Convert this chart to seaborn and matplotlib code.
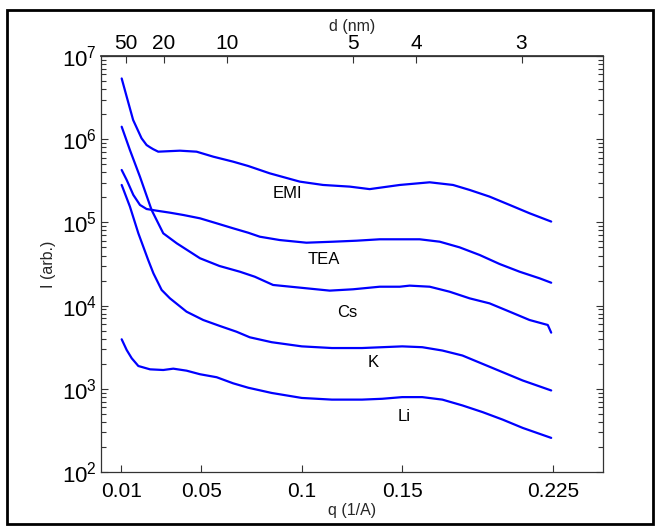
import numpy as np
import pandas as pd
import matplotlib
matplotlib.use("Agg")
import matplotlib.pyplot as plt
from matplotlib.patches import Rectangle
from matplotlib.ticker import LogLocator, NullFormatter, FixedLocator
import seaborn as sns

# ---------------- data ----------------
q_emi = [0.0103, 0.0128, 0.016, 0.0202, 0.0227, 0.0244, 0.026, 0.0285, 0.0393, 0.0476,
         0.0559, 0.0658, 0.0733, 0.084, 0.099, 0.1106, 0.1239, 0.1338, 0.1488, 0.1637,
         0.1753, 0.1836, 0.1935, 0.2035, 0.2134, 0.2242]
logI_emi = [6.73, 6.51, 6.231, 6.011, 5.93, 5.903, 5.88, 5.850, 5.862, 5.850,
            5.790, 5.730, 5.678, 5.59, 5.49, 5.45, 5.43, 5.40, 5.45, 5.482,
            5.45, 5.39, 5.31, 5.21, 5.11, 5.01]

q_tea = [0.0103, 0.0128, 0.0161, 0.0194, 0.0227, 0.0277, 0.0343, 0.041, 0.0493, 0.0576,
         0.0658, 0.0733, 0.0791, 0.089, 0.1023, 0.1156, 0.1272, 0.1388, 0.1488, 0.1587,
         0.1687, 0.1786, 0.1886, 0.1985, 0.2085, 0.2184, 0.2242]
logI_tea = [5.63, 5.51, 5.33, 5.21, 5.161, 5.141, 5.117, 5.089, 5.049, 4.989,
            4.929, 4.876, 4.828, 4.788, 4.756, 4.768, 4.78, 4.797, 4.797, 4.797,
            4.768, 4.70, 4.608, 4.5, 4.407, 4.328, 4.275]

q_cs = [0.0103, 0.0144, 0.0194, 0.0252, 0.031, 0.0377, 0.0493, 0.059, 0.0692, 0.0766,
        0.0857, 0.1023, 0.1139, 0.1255, 0.1388, 0.1488, 0.1537, 0.1637, 0.1736, 0.1836,
        0.1935, 0.2035, 0.2134, 0.2225, 0.2242]
logI_cs = [6.15, 5.87, 5.549, 5.149, 4.869, 4.749, 4.569, 4.476, 4.407, 4.347,
           4.248, 4.208, 4.18, 4.196, 4.227, 4.227, 4.24, 4.227, 4.167, 4.087,
           4.027, 3.927, 3.827, 3.767, 3.675]

q_k = [0.0103, 0.0144, 0.0186, 0.0235, 0.0261, 0.0302, 0.0343, 0.0426, 0.0509, 0.0592,
       0.0675, 0.0741, 0.085, 0.1, 0.115, 0.13, 0.14, 0.15, 0.16, 0.17,
       0.18, 0.19, 0.2, 0.21, 0.2242]
logI_k = [5.45, 5.19, 4.869, 4.548, 4.388, 4.188, 4.088, 3.927, 3.827, 3.755,
          3.686, 3.619, 3.56, 3.51, 3.49, 3.49, 3.50, 3.51, 3.50, 3.46,
          3.40, 3.30, 3.20, 3.10, 2.98]

q_li = [0.0103, 0.0128, 0.0153, 0.0186, 0.0244, 0.031, 0.036, 0.0426, 0.0493, 0.0576,
        0.0658, 0.0733, 0.085, 0.1, 0.115, 0.13, 0.14, 0.15, 0.16, 0.17,
        0.18, 0.19, 0.2, 0.21, 0.2242]
logI_li = [3.595, 3.466, 3.367, 3.274, 3.234, 3.226, 3.242, 3.218, 3.175, 3.139,
           3.066, 3.013, 2.95, 2.89, 2.87, 2.87, 2.88, 2.90, 2.90, 2.87,
           2.80, 2.72, 2.63, 2.53, 2.41]

series_names = ["EMI", "TEA", "Cs", "K", "Li"]
label_q = [0.0929, 0.111, 0.1227, 0.1358, 0.1512]
label_logI = [5.35, 4.56, 3.92, 3.32, 2.67]

x_ticks = [0.01, 0.05, 0.1, 0.15, 0.225]
x_tick_labels = ["0.01", "0.05", "0.1", "0.15", "0.225"]
d_ticks_nm = [50, 20, 10, 5, 4, 3]

# ---------------- build table ----------------
frames = []
for name, qq, ll in zip(series_names,
                        [q_emi, q_tea, q_cs, q_k, q_li],
                        [logI_emi, logI_tea, logI_cs, logI_k, logI_li]):
    frames.append(pd.DataFrame({"q": qq, "I": 10 ** np.array(ll), "sample": name}))
df = pd.concat(frames, ignore_index=True)

# ---------------- plot ----------------
sns.set_theme(style="white")
plt.rcParams["font.family"] = ["Liberation Sans", "DejaVu Sans"]
plt.rcParams["mathtext.fontset"] = "custom"
plt.rcParams["mathtext.rm"] = "Liberation Sans"
plt.rcParams["mathtext.it"] = "Liberation Sans:italic"

W, H = 659, 527
fig = plt.figure(figsize=(W / 100, H / 100), dpi=100)
fig.patch.set_facecolor("white")
ax = fig.add_axes([101 / W, 1 - 472 / H, (603 - 101) / W, (472 - 56) / H])

sns.lineplot(data=df, x="q", y="I", hue="sample",
             palette={n: "#0000ff" for n in series_names},
             estimator=None, sort=False, legend=False, ax=ax, linewidth=1.6)

ax.set_yscale("log")
ax.set_xlim(0, 0.25)
ax.set_ylim(1e2, 1e7)
ax.set_xticks(x_ticks)
ax.set_xticklabels(x_tick_labels)
ax.yaxis.set_major_locator(LogLocator(base=10))
minor_locs = [m * 10.0 ** e for e in range(2, 7) for m in range(2, 10)]
ax.yaxis.set_minor_locator(FixedLocator(minor_locs))
ax.yaxis.set_minor_formatter(NullFormatter())

for name, lq, ll in zip(series_names, label_q, label_logI):
    ax.text(lq, 10 ** ll, name, ha="center", va="center", fontsize=12, color="black")

ax.set_xlabel("q (1/A)", fontsize=11.5, labelpad=2)
ax.set_ylabel("I (arb.)", fontsize=11.5, labelpad=4)

for s in ax.spines.values():
    s.set_color("#333333")
    s.set_linewidth(0.9)

ax.tick_params(axis="x", which="major", direction="in", length=5, width=0.8,
               labelsize=15, pad=7, bottom=True, top=False,
               color="#333333", labelcolor="black")
ax.tick_params(axis="y", which="major", direction="in", length=5, width=0.8,
               labelsize=16, pad=3, left=True, right=True,
               color="#333333", labelcolor="black")
ax.tick_params(axis="y", which="minor", direction="in", length=3.5, width=0.8,
               left=True, right=True, color="#333333")

sec = ax.secondary_xaxis("top")
sec.set_xticks([2 * np.pi / (10 * d) for d in d_ticks_nm])
sec.set_xticklabels([str(d) for d in d_ticks_nm])
sec.tick_params(direction="in", length=5, width=0.8, labelsize=15, pad=2,
                top=True, color="#333333", labelcolor="black")
sec.spines["top"].set_color("#333333")
sec.set_xlabel("d (nm)", fontsize=11.5, labelpad=2)

fig.add_artist(Rectangle((7 / W, 1 - 524 / H), (653 - 7) / W, (524 - 10) / H,
                         transform=fig.transFigure, fill=False, lw=2, ec="black"))

fig.savefig("out.png", dpi=100)
